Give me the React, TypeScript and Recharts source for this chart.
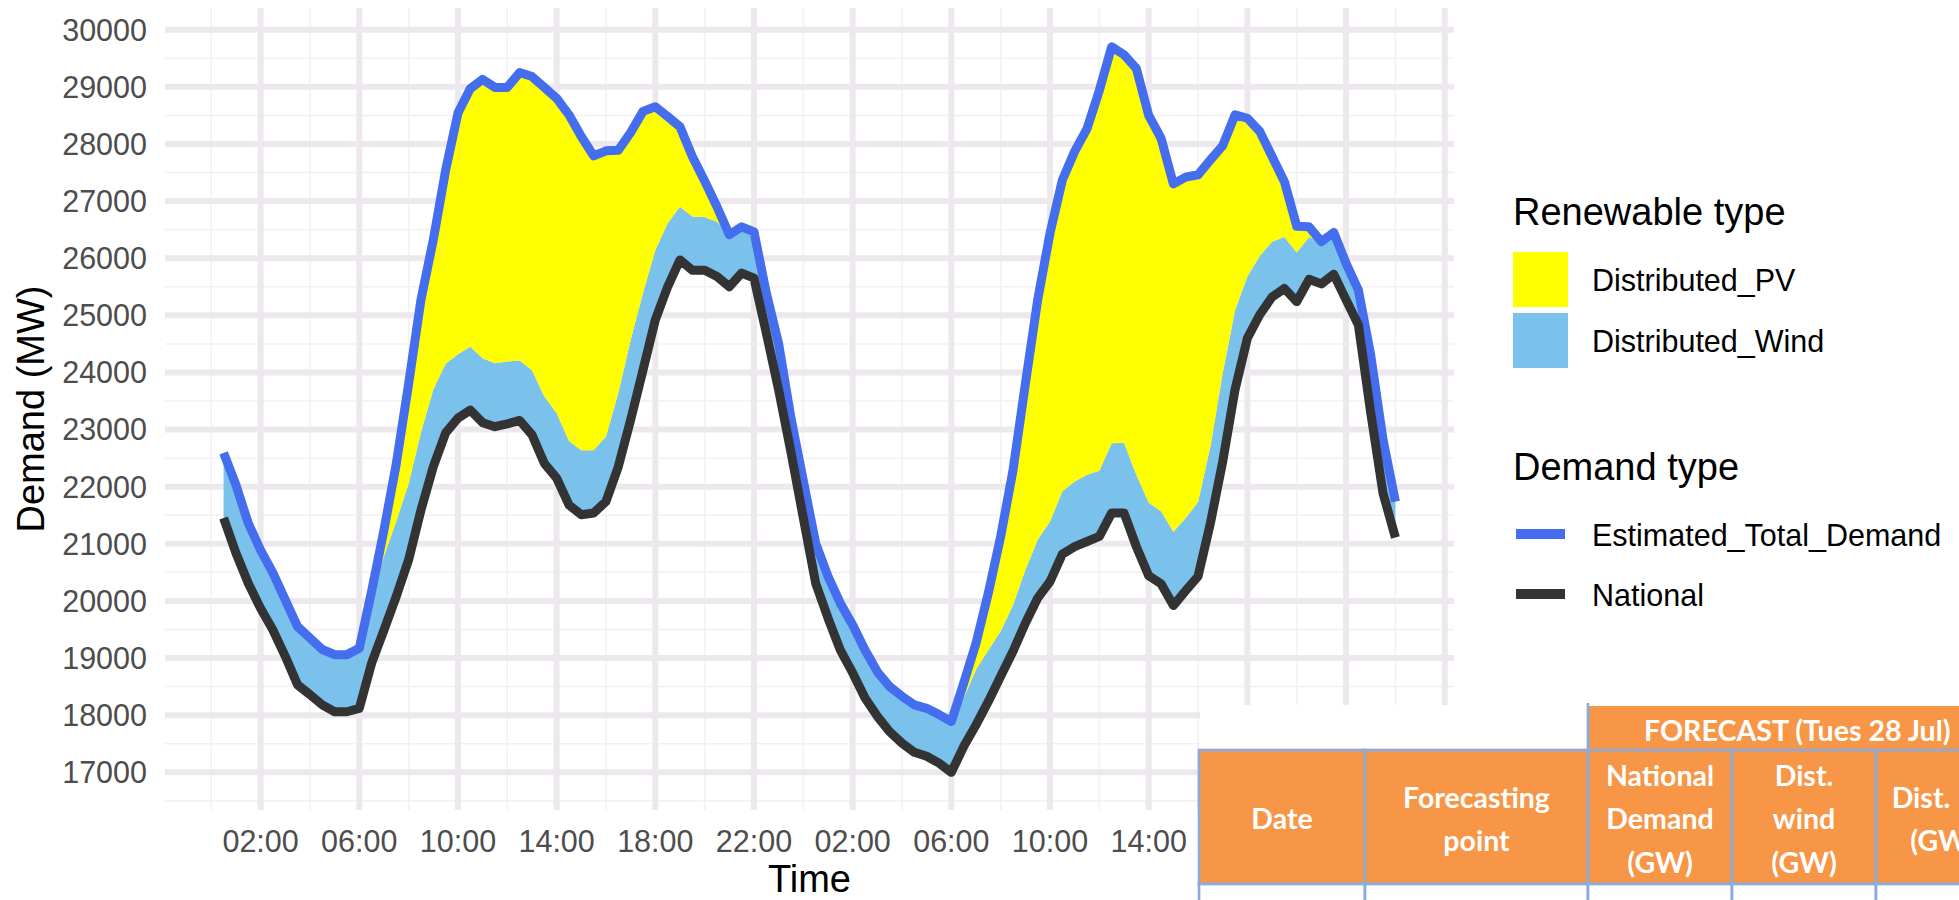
import { Area, CartesianGrid, ComposedChart, Line, ReferenceLine, XAxis, YAxis } from "recharts";

// hours since midnight of day 1, half-hourly (00:30 day 1 .. 00:00 day 3)
const hours = [
  0.5, 1, 1.5, 2, 2.5, 3, 3.5, 4, 4.5, 5, 5.5, 6, 6.5, 7, 7.5, 8, 8.5, 9, 9.5, 10, 10.5, 11, 11.5, 12,
  12.5, 13, 13.5, 14, 14.5, 15, 15.5, 16, 16.5, 17, 17.5, 18, 18.5, 19, 19.5, 20, 20.5, 21, 21.5, 22, 22.5, 23, 23.5, 24,
  24.5, 25, 25.5, 26, 26.5, 27, 27.5, 28, 28.5, 29, 29.5, 30, 30.5, 31, 31.5, 32, 32.5, 33, 33.5, 34, 34.5, 35, 35.5, 36,
  36.5, 37, 37.5, 38, 38.5, 39, 39.5, 40, 40.5, 41, 41.5, 42, 42.5, 43, 43.5, 44, 44.5, 45, 45.5, 46, 46.5, 47, 47.5, 48,
];

// MW
const national = [
  21450, 20840, 20310, 19870, 19490, 19030, 18530, 18360, 18180, 18060, 18060, 18120,
  18910, 19490, 20080, 20720, 21590, 22350, 22940, 23200, 23340, 23120, 23050, 23100,
  23160, 22910, 22410, 22150, 21680, 21510, 21540, 21740, 22350, 23170, 24040, 24920,
  25500, 25970, 25790, 25790, 25680, 25500, 25740, 25650, 24690, 23690, 22600, 21450,
  20310, 19700, 19140, 18740, 18300, 17980, 17710, 17510, 17350, 17280, 17160, 17000,
  17450, 17830, 18240, 18680, 19120, 19610, 20050, 20340, 20820, 20950, 21040, 21130,
  21540, 21540, 20950, 20440, 20300, 19920, 20180, 20430, 21360, 22440, 23700, 24600,
  25010, 25320, 25470, 25240, 25630, 25550, 25720, 25270, 24830, 23290, 21880, 21110,
];

const estimatedTotal = [
  22590, 22030, 21360, 20890, 20490, 20020, 19550, 19350, 19150, 19060, 19060, 19170,
  20170, 21240, 22400, 23800, 25270, 26320, 27540, 28540, 28970, 29130, 28990, 28990,
  29250, 29180, 28990, 28800, 28510, 28130, 27790, 27880, 27890, 28200, 28570, 28650,
  28480, 28300, 27780, 27350, 26900, 26410, 26550, 26460, 25390, 24500, 23200, 22100,
  21010, 20430, 19960, 19580, 19140, 18760, 18500, 18330, 18180, 18120, 18010, 17890,
  18560, 19260, 20140, 21130, 22290, 23800, 25270, 26440, 27370, 27870, 28270, 28940,
  29700, 29560, 29320, 28500, 28100, 27300, 27420, 27460, 27720, 27970, 28510, 28450,
  28220, 27780, 27340, 26560, 26550, 26290, 26450, 25910, 25440, 24300, 22820, 21740,
];

const distributedWind = [
  1140, 1190, 1050, 1020, 1000, 990, 1020, 990, 970, 1000, 1000, 1050,
  1260, 1290, 1320, 1330, 1360, 1350, 1210, 1120, 1110, 1130, 1110, 1090,
  1050, 1130, 1170, 1140, 1120, 1130, 1100, 1140, 1290, 1400, 1350, 1220,
  1110, 930, 940, 930, 960, 910, 810, 810, 700, 810, 600, 650,
  700, 730, 820, 840, 840, 780, 790, 820, 830, 840, 850, 890,
  850, 970, 900, 790, 810, 930, 1020, 1050, 1100, 1140, 1170, 1150,
  1220, 1230, 1260, 1280, 1270, 1290, 1270, 1300, 1340, 1550, 1390, 1080,
  1030, 970, 900, 860, 740, 740, 730, 640, 610, 1010, 940, 630,
];

const distributedPV = [
  0, 0, 0, 0, 0, 0, 0, 0, 0, 0, 0, 0,
  0, 460, 1000, 1750, 2320, 2620, 3390, 4220, 4520, 4880, 4830, 4800,
  5040, 5140, 5410, 5510, 5710, 5490, 5150, 5000, 4250, 3630, 3180, 2510,
  1870, 1400, 1050, 630, 260, 0, 0, 0, 0, 0, 0, 0,
  0, 0, 0, 0, 0, 0, 0, 0, 0, 0, 0, 0,
  260, 460, 1000, 1660, 2360, 3260, 4200, 5050, 5450, 5780, 6060, 6660,
  6940, 6790, 7110, 6780, 6530, 6090, 5970, 5730, 5020, 3980, 3420, 2770,
  2180, 1490, 970, 460, 180, 0, 0, 0, 0, 0, 0, 0,
];

const xMajorTicks = [2, 6, 10, 14, 18, 22, 26, 30, 34, 38, 42, 46, 50];
const xMinorTicks = [0, 4, 8, 12, 16, 20, 24, 28, 32, 36, 40, 44, 48];
const yMajorTicks = [17000, 18000, 19000, 20000, 21000, 22000, 23000, 24000, 25000, 26000, 27000, 28000, 29000, 30000];
const yMinorTicks = [16500, 17500, 18500, 19500, 20500, 21500, 22500, 23500, 24500, 25500, 26500, 27500, 28500, 29500];
// tick labels that sit under the pasted table
const hiddenXLabels = [42, 46, 50];

const renewableLegend = [
  { label: "Distributed_PV", color: "#FFFF00" },
  { label: "Distributed_Wind", color: "#7AC1EC" },
];
const demandLegend = [
  { label: "Estimated_Total_Demand", color: "#446EEE" },
  { label: "National", color: "#333333" },
];

const tableTitle = "FORECAST (Tues 28 Jul)";
const tableHeaders = [
  ["Date"],
  ["Forecasting", "point"],
  ["National", "Demand", "(GW)"],
  ["Dist.", "wind", "(GW)"],
  ["Dist. PV", "(GW)"],
];

const rows = hours.map((t, i) => ({
  t,
  national: national[i],
  total: estimatedTotal[i],
  windBand: [national[i], national[i] + distributedWind[i]],
  pvBand: [national[i] + distributedWind[i], national[i] + distributedWind[i] + distributedPV[i]],
}));

const SANS = "'Liberation Sans', Arial, sans-serif";
const CALIBRI = "Lato, 'Open Sans', sans-serif";
const ORANGE = "#F79646";
const BORDER = "#8EAADB";
const colEdges = [1199, 1365, 1588, 1732, 1876, 2010];

const fmtHour = (t: number) => (hiddenXLabels.includes(t) ? "" : `${String(t % 24).padStart(2, "0")}:00`);

function YTitle({ viewBox }: any) {
  const cx = viewBox.x + 31;
  const cy = viewBox.y + viewBox.height / 2;
  return (
    <text x={cx} y={cy} transform={`rotate(-90 ${cx} ${cy})`} textAnchor="middle" dy={13} fontSize={38} fill="#000" fontFamily={SANS}>
      Demand (MW)
    </text>
  );
}

export default function App() {
  return (
    <div style={{ position: "absolute", left: 0, top: 0, width: 1959, height: 900, background: "#fff", overflow: "hidden", fontFamily: SANS }}>
      <ComposedChart width={1959} height={900} data={rows} margin={{ top: 8, right: 505, bottom: 0, left: 0 }}>
        {xMinorTicks.map((v) => (
          <ReferenceLine key={`mx${v}`} x={v} stroke="#F3F0F3" strokeWidth={1.5} zIndex={-150} />
        ))}
        {yMinorTicks.map((v) => (
          <ReferenceLine key={`my${v}`} y={v} stroke="#F3F0F3" strokeWidth={1.5} zIndex={-150} />
        ))}
        <CartesianGrid stroke="#EDE8ED" strokeWidth={6} syncWithTicks />
        <XAxis
          type="number"
          dataKey="t"
          domain={[-1.875, 50.375]}
          ticks={xMajorTicks}
          interval={0}
          tickFormatter={fmtHour}
          height={90}
          axisLine={false}
          tickLine={false}
          tickMargin={14}
          tick={{ fontSize: 30.5, fill: "#4D4D4D", fontFamily: SANS }}
          label={{ value: "Time", position: "insideBottom", offset: 8, fontSize: 38, fill: "#000", fontFamily: SANS }}
        />
        <YAxis
          type="number"
          domain={[16340, 30380]}
          ticks={yMajorTicks}
          interval={0}
          width={165}
          axisLine={false}
          tickLine={false}
          tickMargin={12}
          tick={{ fontSize: 30.5, fill: "#4D4D4D", fontFamily: SANS }}
          label={{ content: YTitle }}
        />
        <Area type="linear" dataKey="windBand" stroke="none" fill="#7AC1EC" fillOpacity={1} dot={false} activeDot={false} isAnimationActive={false} />
        <Area type="linear" dataKey="pvBand" stroke="none" fill="#FFFF00" fillOpacity={1} dot={false} activeDot={false} isAnimationActive={false} />
        <Line type="linear" dataKey="total" stroke="#446EEE" strokeWidth={9} strokeLinejoin="round" dot={false} activeDot={false} isAnimationActive={false} />
        <Line type="linear" dataKey="national" stroke="#333333" strokeWidth={9} strokeLinejoin="round" dot={false} activeDot={false} isAnimationActive={false} />
      </ComposedChart>

      <svg width={1959} height={900} style={{ position: "absolute", left: 0, top: 0, pointerEvents: "none" }}>
        {/* legends */}
        <g fontFamily={SANS} fill="#000">
          <text x={1513} y={225} fontSize={38}>Renewable type</text>
          {renewableLegend.map((d, i) => (
            <g key={d.label}>
              <rect x={1513} y={252 + i * 61} width={55} height={55} fill={d.color} />
              <text x={1592} y={291 + i * 61} fontSize={30.5}>{d.label}</text>
            </g>
          ))}
          <text x={1513} y={480} fontSize={38}>Demand type</text>
          {demandLegend.map((d, i) => (
            <g key={d.label}>
              <line x1={1516} x2={1565} y1={534 + i * 60} y2={534 + i * 60} stroke={d.color} strokeWidth={10} />
              <text x={1592} y={546 + i * 60} fontSize={30.5}>{d.label}</text>
            </g>
          ))}
        </g>

        {/* forecast table */}
        <rect x={1200} y={705} width={759} height={195} fill="#fff" />
        <rect x={1588} y={706} width={420} height={44} fill={ORANGE} />
        <line x1={1588} x2={1588} y1={703} y2={750} stroke={BORDER} strokeWidth={2.7} />
        <text x={1644} y={741} fontSize={28.6} fontWeight={700} fill="#fff" fontFamily={CALIBRI}>
          {tableTitle}
        </text>
        {tableHeaders.map((lines, c) => {
          const x0 = colEdges[c];
          const x1 = colEdges[c + 1];
          const cx = (x0 + x1) / 2;
          const first = 829.3 - ((lines.length - 1) * 43.5) / 2;
          return (
            <g key={c}>
              <rect x={x0} y={750} width={x1 - x0} height={134} fill={ORANGE} stroke={BORDER} strokeWidth={2.7} />
              <rect x={x0} y={884} width={x1 - x0} height={60} fill="#fff" stroke={BORDER} strokeWidth={2.7} />
              {lines.map((s, k) => (
                <text key={k} x={cx} y={first + k * 43.5} textAnchor="middle" fontSize={28.5} fontWeight={700} fill="#fff" fontFamily={CALIBRI}>
                  {s}
                </text>
              ))}
            </g>
          );
        })}
      </svg>
    </div>
  );
}
